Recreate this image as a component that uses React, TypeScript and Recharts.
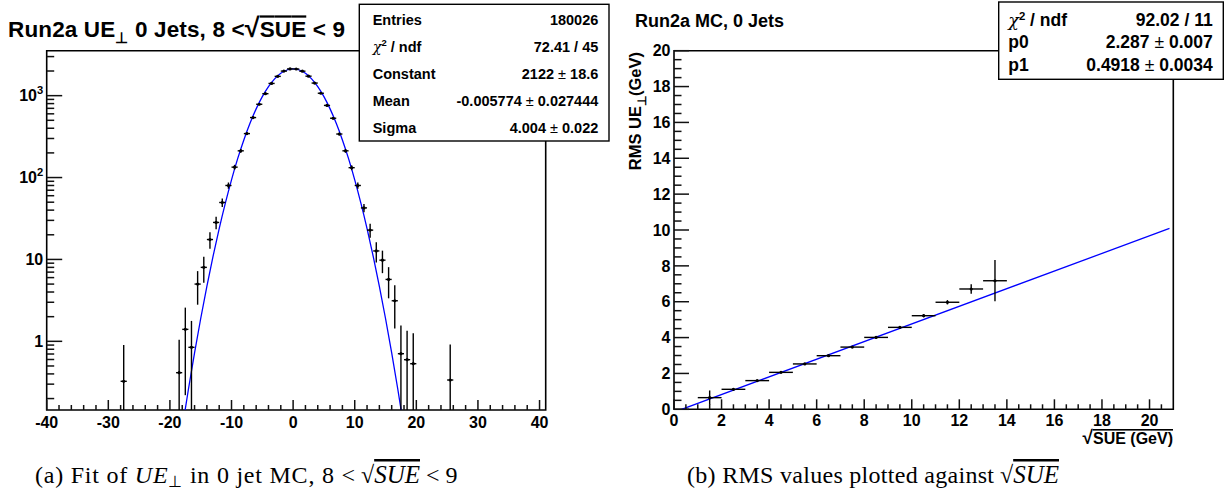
import React from "react";
import {
  ComposedChart,
  XAxis,
  YAxis,
  Scatter,
  Line,
  ErrorBar,
  ReferenceArea,
} from "recharts";

const SANS = "'Liberation Sans', Arial, Helvetica, sans-serif";
const SERIF = "'Liberation Serif', 'Times New Roman', serif";

// (a) UE_perp distribution for 8 < sqrt(SUE) < 9, log scale
const ueCenters = [
  -27.5, -18.5, -17.5, -16.5, -15.5, -14.5, -13.5, -12.5, -11.5, -10.5, -9.5,
  -8.5, -7.5, -6.5, -5.5, -4.5, -3.5, -2.5, -1.5, -0.5, 0.5, 1.5, 2.5, 3.5, 4.5,
  5.5, 6.5, 7.5, 8.5, 9.5, 10.5, 11.5, 12.5, 13.5, 14.5, 15.5, 16.5, 17.5, 18.5,
  19.5, 25.5,
];
const ueCounts = [
  0.325, 0.414, 1.4, 0.845, 5.0, 8.0, 17.5, 28.3, 49.6, 80, 134, 212, 344, 540,
  785, 1057, 1410, 1720, 1995, 2120, 2115, 1990, 1730, 1425, 1070, 760, 530, 340,
  212, 132, 80, 42.6, 22.8, 12.7, 9.8, 5.7, 3.13, 0.706, 0.597, 0.533, 0.337,
];
const ueErrors = [
  0.58, 0.63, 1.18, 0.93, 2.2, 2.8, 4.0, 5.0, 6.0, 7, 9, 11, 14, 17, 20, 23, 27,
  30, 32, 33, 33, 32, 30, 27, 24, 20, 17, 14, 11, 9, 7, 5, 4.4, 3.5, 3.0, 2.35,
  1.7, 0.85, 0.75, 0.72, 0.58,
];
// gaussian fit curve
const fitX = [
  -18, -17, -16, -15, -14, -13, -12, -11, -10, -9, -8, -7, -6, -5, -4, -3, -2,
  -1, 0, 1, 2, 3, 4, 5, 6, 7, 8, 9, 10, 11, 12, 13, 14, 15, 16, 17, 18,
];
const fitY = [
  0.087, 0.258, 0.722, 1.9, 4.7, 10.9, 23.8, 48.7, 93.8, 170, 288, 460, 690, 973,
  1288, 1603, 1873, 2057, 2122, 2057, 1873, 1603, 1288, 973, 690, 460, 288, 170,
  93.8, 48.7, 23.8, 10.9, 4.7, 1.9, 0.722, 0.258, 0.087,
];
const ueXLabels = [-40, -30, -20, -10, 0, 10, 20, 30, 40];
const ueYLabels = [1, 10, 100, 1000];
const UE_X = [-40, 41];
const UE_Y = [0.145, 3540];

// (b) RMS of UE_perp vs sqrt(SUE)
const sueCenters = [1.5, 2.5, 3.5, 4.5, 5.5, 6.5, 7.5, 8.5, 9.5, 10.5, 11.5, 12.5, 13.5];
const rmsValues = [0.65, 1.115, 1.6, 2.06, 2.53, 2.99, 3.47, 4.01, 4.57, 5.22, 5.97, 6.71, 7.17];
const rmsErrors = [0.4, 0.05, 0.04, 0.04, 0.04, 0.04, 0.05, 0.06, 0.07, 0.09, 0.12, 0.27, 1.15];
const lineX = [0.32, 20.84];
const lineY = [0, 10.09];
const sueXLabels = [0, 2, 4, 6, 8, 10, 12, 14, 16, 18, 20];
const rmsYLabels = [0, 2, 4, 6, 8, 10, 12, 14, 16, 18, 20];
const SUE_X = [0, 21];
const RMS_Y = [0, 20];

const leftStatLabels = ["Entries", "χ2 / ndf", "Constant", "Mean", "Sigma"];
const leftStatValues = ["180026", "72.41 / 45", "2122 ± 18.6", "-0.005774 ± 0.027444", "4.004 ± 0.022"];
const rightStatLabels = ["χ2 / ndf", "p0", "p1"];
const rightStatValues = ["92.02 / 11", "2.287 ± 0.007", "0.4918 ± 0.0034"];

const range = (a: number, b: number, step: number) => {
  const out: number[] = [];
  for (let v = a; v <= b + 1e-9; v += step) out.push(Math.round(v * 100) / 100);
  return out;
};

const ueXTicks = range(-40, 40, 2);
const ueYTicks: number[] = [];
[0.1, 1, 10, 100, 1000].forEach((d) => {
  for (let k = 1; k < 10; k++) {
    const v = +(k * d).toPrecision(3);
    if (v >= UE_Y[0] && v <= UE_Y[1]) ueYTicks.push(v);
  }
});
const sueXTicks = range(0, 20.5, 0.5);
const rmsYTicks = range(0, 20, 0.5);

const ueData = ueCenters.map((x, i) => ({
  x,
  y: ueCounts[i],
  ex: 0.5,
  ey: [Math.min(ueErrors[i], ueCounts[i] - UE_Y[0] * 1.002), ueErrors[i]],
}));
const fitData = fitX.map((x, i) => ({ x, y: fitY[i] }));
const rmsData = sueCenters.map((x, i) => ({ x, y: rmsValues[i], ex: 0.5, ey: rmsErrors[i] }));
const lineData = lineX.map((x, i) => ({ x, y: lineY[i] }));

const TICK = "#111";

const XTick = (p: any) => {
  const { x, y, payload, labels, big, small, fs, dy } = p;
  const v = payload.value;
  const major = labels.includes(v);
  return (
    <g>
      <line x1={x} x2={x} y1={y} y2={y - (major ? big : small)} stroke={TICK} strokeWidth={1.5} />
      {major && (
        <text x={x} y={y + dy} textAnchor="middle" fontFamily={SANS} fontWeight="bold" fontSize={fs} fill="#000">
          {v}
        </text>
      )}
    </g>
  );
};

const logLabel = (v: number) => {
  if (v === 1) return "1";
  if (v === 10) return "10";
  return null;
};

const YTick = (p: any) => {
  const { x, y, payload, labels, big, small, fs, log } = p;
  const v = payload.value;
  const major = labels.includes(v);
  let label: React.ReactNode = v;
  if (log && major && logLabel(v) === null) {
    label = (
      <>
        10
        <tspan dy={-7} fontSize={fs * 0.7}>
          {Math.round(Math.log10(v))}
        </tspan>
      </>
    );
  } else if (log) {
    label = logLabel(v);
  }
  return (
    <g>
      <line x1={x} x2={x + (major ? big : small)} y1={y} y2={y} stroke={TICK} strokeWidth={1.5} />
      {major && (
        <text x={x - 3.5} y={y + fs * 0.36} textAnchor="end" fontFamily={SANS} fontWeight="bold" fontSize={fs} fill="#000">
          {label}
        </text>
      )}
    </g>
  );
};

const Dot = (p: any) => <circle cx={p.cx} cy={p.cy} r={1.6} fill="#000" />;

const statText = (s: string, fs: number) => {
  if (s.startsWith("χ2")) {
    return (
      <>
        <tspan fontWeight="normal" fontFamily="'DejaVu Serif', serif" fontStyle="italic">χ</tspan>
        <tspan dy={-fs * 0.38} fontSize={fs * 0.65}>2</tspan>
        <tspan dy={fs * 0.38}>{s.slice(2)}</tspan>
      </>
    );
  }
  if (s.includes("±")) {
    const [a, b] = s.split("±");
    return (
      <>
        {a}
        <tspan fontWeight="normal">±</tspan>
        {b}
      </>
    );
  }
  return s;
};

const StatBox = (p: any) => {
  const { x, y, w, h, lx, rx, ys, fs, labels, values } = p;
  return (
    <g fontFamily={SANS} fontWeight="bold" fontSize={fs} fill="#000">
      <rect x={x} y={y} width={w} height={h} fill="#fff" stroke="#000" strokeWidth={1.4} />
      {labels.map((l: string, i: number) => (
        <text key={"l" + i} x={lx} y={ys[i]}>
          {statText(l, fs)}
        </text>
      ))}
      {values.map((v: string, i: number) => (
        <text key={"v" + i} x={rx} y={ys[i]} textAnchor="end">
          {statText(v, fs)}
        </text>
      ))}
    </g>
  );
};

export default function App() {
  return (
    <div style={{ position: "absolute", left: 0, top: 0, width: 1225, height: 498, background: "#fff" }}>
      <div style={{ position: "absolute", left: 0, top: 0 }}>
        <ComposedChart width={612} height={440} margin={{ top: 50.7, right: 66.3, bottom: 0, left: 0 }}>
          <XAxis
            dataKey="x"
            type="number"
            domain={UE_X}
            allowDataOverflow
            ticks={ueXTicks}
            interval={0}
            height={30}
            axisLine={false}
            tickLine={false}
            tickSize={0}
            tickMargin={0}
            tick={(p: any) => <XTick {...p} labels={ueXLabels} big={10} small={5} fs={16} dy={17.5} />}
          />
          <YAxis
            dataKey="y"
            type="number"
            scale="log"
            domain={UE_Y}
            allowDataOverflow
            ticks={ueYTicks}
            interval={0}
            width={46.7}
            axisLine={false}
            tickLine={false}
            tickSize={0}
            tickMargin={0}
            tick={(p: any) => <YTick {...p} labels={ueYLabels} big={15.5} small={7.5} fs={16} log />}
          />
          <Line
            data={fitData}
            dataKey="y"
            type="monotone"
            dot={false}
            stroke="#0000ff"
            strokeWidth={1.3}
            isAnimationActive={false}
          />
          <Scatter data={ueData} dataKey="y" shape={Dot} isAnimationActive={false}>
            <ErrorBar dataKey="ey" direction="y" width={0} stroke="#000" strokeWidth={1.4} />
            <ErrorBar dataKey="ex" direction="x" width={0} stroke="#000" strokeWidth={1.4} />
          </Scatter>
          <ReferenceArea
            x1={UE_X[0]}
            x2={UE_X[1]}
            y1={UE_Y[0]}
            y2={UE_Y[1]}
            fill="none"
            stroke="#000"
            strokeWidth={1.6}
            ifOverflow="visible"
          />
        </ComposedChart>
      </div>
      <div style={{ position: "absolute", left: 612, top: 0 }}>
        <ComposedChart width={613} height={440} margin={{ top: 50.7, right: 51.7, bottom: 0, left: 0 }}>
          <XAxis
            dataKey="x"
            type="number"
            domain={SUE_X}
            allowDataOverflow
            ticks={sueXTicks}
            interval={0}
            height={30.7}
            axisLine={false}
            tickLine={false}
            tickSize={0}
            tickMargin={0}
            tick={(p: any) => <XTick {...p} labels={sueXLabels} big={10} small={5} fs={16} dy={16.5} />}
          />
          <YAxis
            dataKey="y"
            type="number"
            domain={RMS_Y}
            allowDataOverflow
            ticks={rmsYTicks}
            interval={0}
            width={62}
            axisLine={false}
            tickLine={false}
            tickSize={0}
            tickMargin={0}
            tick={(p: any) => <YTick {...p} labels={rmsYLabels} big={15} small={7.5} fs={16} />}
          />
          <Line
            data={lineData}
            dataKey="y"
            type="linear"
            dot={false}
            stroke="#0000ff"
            strokeWidth={1.3}
            isAnimationActive={false}
          />
          <Scatter data={rmsData} dataKey="y" shape={Dot} isAnimationActive={false}>
            <ErrorBar dataKey="ey" direction="y" width={0} stroke="#000" strokeWidth={1.4} />
            <ErrorBar dataKey="ex" direction="x" width={0} stroke="#000" strokeWidth={1.4} />
          </Scatter>
          <ReferenceArea
            x1={SUE_X[0]}
            x2={SUE_X[1]}
            y1={RMS_Y[0]}
            y2={RMS_Y[1]}
            fill="none"
            stroke="#000"
            strokeWidth={1.6}
            ifOverflow="visible"
          />
        </ComposedChart>
      </div>
      <svg
        width={1225}
        height={498}
        style={{ position: "absolute", left: 0, top: 0, pointerEvents: "none" }}
      >
        <text x={8} y={37.4} fontFamily={SANS} fontWeight="bold" fontSize={22.5} fill="#000" textLength={337} lengthAdjust="spacing">
          Run2a UE
          <tspan dy={6} fontSize={15}>⊥</tspan>
          <tspan dy={-6}> 0 Jets, 8 &lt;</tspan>
          <tspan fontSize={27}>√</tspan>
          <tspan style={{ textDecoration: "overline" }}>SUE</tspan> &lt; 9
        </text>
        <StatBox
          x={359.3}
          y={4.3}
          w={249.7}
          h={136.7}
          lx={372.7}
          rx={598.3}
          ys={[25.2, 51.9, 79.2, 105.9, 132.5]}
          fs={14.5}
          labels={leftStatLabels}
          values={leftStatValues}
        />
        <text x={635} y={26.7} fontFamily={SANS} fontWeight="bold" fontSize={18} fill="#000">
          Run2a MC, 0 Jets
        </text>
        <StatBox
          x={998.7}
          y={2}
          w={224.6}
          h={77.3}
          lx={1008.3}
          rx={1212.7}
          ys={[26.3, 48, 71.3]}
          fs={17.5}
          labels={rightStatLabels}
          values={rightStatValues}
        />
        <text
          transform="translate(640.5,52) rotate(-90)"
          textAnchor="end"
          fontFamily={SANS}
          fontWeight="bold"
          fontSize={16.5}
          fill="#000"
        >
          RMS UE
          <tspan dy={5} fontSize={12}>⊥</tspan>
          <tspan dy={-5}>(GeV)</tspan>
        </text>
        <text x={1173} y={444} textAnchor="end" fontFamily={SANS} fontWeight="bold" fontSize={16} fill="#000">
          <tspan fontSize={19}>√</tspan>
          <tspan style={{ textDecoration: "overline" }}>SUE (GeV)</tspan>
        </text>
        <g fontFamily={SERIF} fontSize={24} fill="#000">
          <text x={35} y={483} textLength={320} lengthAdjust="spacing">
            (a) Fit of <tspan fontStyle="italic">UE</tspan>
            <tspan dy={4} fontSize={16}>⊥</tspan>
            <tspan dy={-4}> in 0 jet MC, 8 &lt;</tspan>
          </text>
          <text x={361} y={483}>
            √<tspan fontStyle="italic" fontSize={25} style={{ textDecoration: "overline" }}>SUE</tspan> &lt; 9
          </text>
          <text x={687} y={483} textLength={307} lengthAdjust="spacing">
            (b) RMS values plotted against
          </text>
          <text x={1000} y={483}>
            √<tspan fontStyle="italic" fontSize={25} style={{ textDecoration: "overline" }}>SUE</tspan>
          </text>
        </g>
      </svg>
    </div>
  );
}
